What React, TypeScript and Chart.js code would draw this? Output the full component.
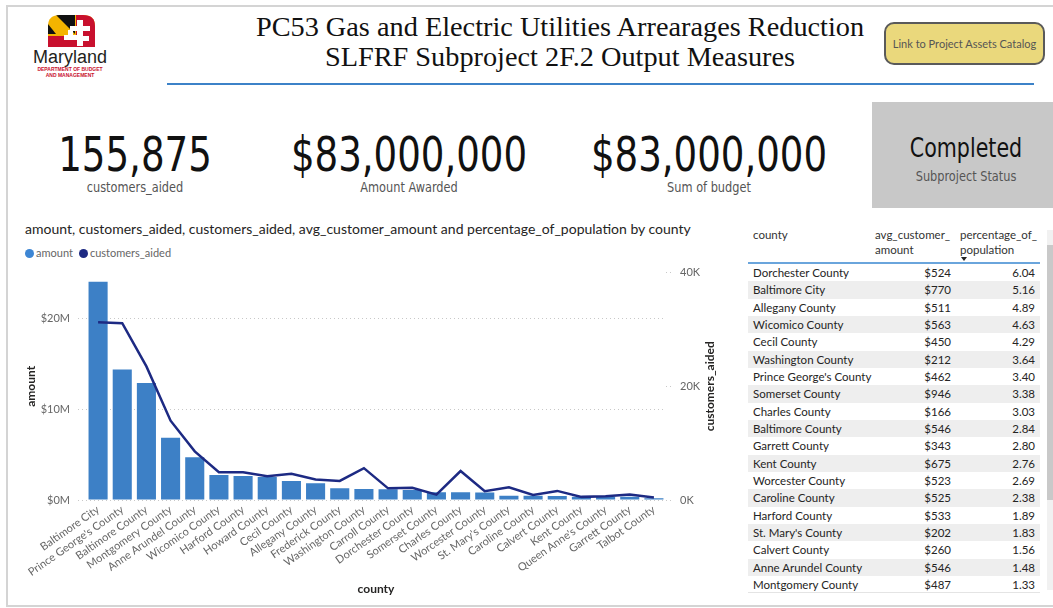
import React, { useEffect, useRef } from 'react';
import { Chart, registerables } from 'chart.js';

Chart.register(...registerables);

// ---------- data ----------
const counties = [
  'Baltimore City', "Prince George's County", 'Baltimore County', 'Montgomery County',
  'Anne Arundel County', 'Wicomico County', 'Harford County', 'Howard County',
  'Cecil County', 'Allegany County', 'Frederick County', 'Washington County',
  'Carroll County', 'Dorchester County', 'Somerset County', 'Charles County',
  'Worcester County', "St. Mary's County", 'Caroline County', 'Calvert County',
  'Kent County', "Queen Anne's County", 'Garrett County', 'Talbot County',
];
const amounts = [
  24000000, 14350000, 12850000, 6830000, 4700000, 2750000, 2640000, 2530000,
  2090000, 1840000, 1290000, 1210000, 1180000, 1100000, 850000, 850000,
  830000, 480000, 480000, 450000, 370000, 360000, 350000, 180000,
];
const customersAided = [
  31250, 31100, 23500, 13950, 8550, 4900, 4900, 4200,
  4600, 3600, 3350, 5600, 2050, 2150, 950, 5100,
  1550, 2250, 880, 1600, 550, 650, 980, 450,
];
const amountAxisMax = 25000000;
const amountTicks = [0, 10000000, 20000000];
const customersAxisMax = 40000;
const customersTicks = [0, 20000, 40000];

const tableCounties = [
  'Dorchester County', 'Baltimore City', 'Allegany County', 'Wicomico County', 'Cecil County',
  'Washington County', "Prince George's County", 'Somerset County', 'Charles County',
  'Baltimore County', 'Garrett County', 'Kent County', 'Worcester County', 'Caroline County',
  'Harford County', "St. Mary's County", 'Calvert County', 'Anne Arundel County', 'Montgomery County',
];
const avgCustomerAmounts = [524, 770, 511, 563, 450, 212, 462, 946, 166, 546, 343, 675, 523, 525, 533, 202, 260, 546, 487];
const percentageOfPopulation = [6.04, 5.16, 4.89, 4.63, 4.29, 3.64, 3.40, 3.38, 3.03, 2.84, 2.80, 2.76, 2.69, 2.38, 1.89, 1.83, 1.56, 1.48, 1.33];

const kpiCustomersAided = 155875;
const kpiAmountAwarded = 83000000;
const kpiSumOfBudget = 83000000;
const subprojectStatus = 'Completed';

// ---------- styles ----------
const SANS = "'Segoe UI', Lato, 'Noto Sans', sans-serif";
const NARROW = "'Liberation Sans Narrow', 'DejaVu Sans Condensed', 'Roboto', sans-serif";
const SERIF = "'Liberation Serif', 'DejaVu Serif', serif";

const fmtInt = (n: number) => n.toLocaleString('en-US');
const fmtMoney = (n: number) => '$' + n.toLocaleString('en-US');

function ComboChart() {
  const ref = useRef<HTMLCanvasElement | null>(null);
  useEffect(() => {
    if (!ref.current) return;
    const rightTitle = {
      id: 'rightTitle',
      afterDraw(chart: any) {
        const { ctx, chartArea } = chart;
        const s = chart.scales.y1;
        ctx.save();
        ctx.translate(s.left + 44, (chartArea.top + chartArea.bottom) / 2);
        ctx.rotate(-Math.PI / 2);
        ctx.font = `bold 12px ${SANS}`;
        ctx.fillStyle = '#252423';
        ctx.textAlign = 'center';
        ctx.textBaseline = 'middle';
        ctx.fillText('customers_aided', 0, 0);
        ctx.restore();
      },
    };
    const chart = new Chart(ref.current, {
      type: 'bar',
      data: {
        labels: counties,
        datasets: [
          {
            type: 'line',
            label: 'customers_aided',
            data: customersAided,
            yAxisID: 'y1',
            borderColor: '#1d2a83',
            borderWidth: 2.5,
            pointRadius: 0,
            tension: 0,
            order: 0,
          } as any,
          {
            type: 'bar',
            label: 'amount',
            data: amounts,
            yAxisID: 'y',
            backgroundColor: '#3d80c6',
            borderWidth: 0,
            categoryPercentage: 1,
            barPercentage: 0.79,
            order: 1,
          } as any,
        ],
      },
      options: {
        responsive: false,
        maintainAspectRatio: false,
        animation: false,
        layout: { padding: { top: 7, left: 0, right: 0, bottom: 0 } },
        plugins: {
          legend: { display: false },
          title: { display: false },
          tooltip: { enabled: false },
        },
        scales: {
          x: {
            grid: { display: false, drawTicks: false },
            border: { display: false },
            ticks: {
              autoSkip: false,
              minRotation: 35,
              maxRotation: 35,
              color: '#666666',
              padding: 3,
              font: { size: 11, family: SANS },
            },
            title: {
              display: true,
              text: 'county',
              color: '#252423',
              font: { size: 12, family: SANS, weight: 'bold' },
              padding: { top: 0, bottom: 9 },
            },
            afterFit: (s: any) => { s.height = 105; },
          },
          y: {
            position: 'left',
            min: 0,
            max: amountAxisMax,
            grid: { color: '#c8c8c8', lineWidth: 1, tickLength: 8, tickColor: '#c8c8c8', tickBorderDash: [1, 3] },
            border: { display: false, dash: [1, 3] },
            ticks: {
              padding: 8,
              color: '#666666',
              font: { size: 11, family: SANS },
              callback: (v: any) => '$' + Number(v) / 1000000 + 'M',
            },
            afterBuildTicks: (s: any) => { s.ticks = amountTicks.map((v) => ({ value: v })); },
            title: {
              display: true,
              text: 'amount',
              color: '#252423',
              font: { size: 12, family: SANS, weight: 'bold' },
              padding: { top: 4, bottom: 4 },
            },
            afterFit: (s: any) => { s.width = 66; },
          },
          y1: {
            position: 'right',
            min: 0,
            max: customersAxisMax,
            grid: { drawOnChartArea: false, tickLength: 8, tickColor: '#c8c8c8', tickBorderDash: [1, 3] },
            border: { display: false },
            ticks: {
              padding: 6,
              color: '#666666',
              font: { size: 11, family: SANS },
              callback: (v: any) => Number(v) / 1000 + 'K',
            },
            afterBuildTicks: (s: any) => { s.ticks = customersTicks.map((v) => ({ value: v })); },
            afterFit: (s: any) => { s.width = 79; },
          },
        },
      } as any,
      plugins: [rightTitle as any],
    });
    return () => chart.destroy();
  }, []);
  return (
    <canvas
      ref={ref}
      width={725}
      height={347}
      style={{ position: 'absolute', left: 20, top: 258, width: 725, height: 347 }}
    />
  );
}

function Logo() {
  return (
    <div style={{ position: 'absolute', left: 20, top: 12, width: 100, height: 70 }}>
      <svg width={100} height={45} style={{ position: 'absolute', left: 0, top: 0 }}>
        <defs>
          <clipPath id="arch">
            <path d="M28,35 L28,14 Q28,3 40,3 L63,3 Q75,3 75,14 L75,35 Z" />
          </clipPath>
        </defs>
        <g clipPath="url(#arch)">
          <rect x={28} y={3} width={47} height={32} fill="#f4b400" />
          <polygon points="36,3 55,3 55,22" fill="#111" />
          <polygon points="28,12 36,22 28,22" fill="#111" />
          <rect x={56} y={3} width={19} height={32} fill="#c8102e" />
          <rect x={28} y={24} width={47} height={11} fill="#c8102e" />
          <rect x={50} y={14} width={20} height={5} fill="#fff" />
          <rect x={57} y={8} width={6} height={26} fill="#fff" />
          <rect x={44} y={23} width={13} height={5} fill="#fff" />
          <rect x={48} y={18} width={5} height={10} fill="#fff" />
          <rect x={63} y={24} width={6} height={5} fill="#fff" />
        </g>
      </svg>
      <div style={{ position: 'absolute', left: 0, top: 35, width: 100, textAlign: 'center', fontFamily: "'Liberation Sans', Arial, sans-serif", fontSize: 18, lineHeight: '20px', color: '#231f20', fontWeight: 500 }}>
        Maryland
      </div>
      <div style={{ position: 'absolute', left: 0, top: 55, width: 100, textAlign: 'center', fontFamily: "'Liberation Sans', Arial, sans-serif", fontSize: 5, lineHeight: '5.5px', color: '#c8102e', fontWeight: 'bold' }}>
        DEPARTMENT OF BUDGET<br />AND MANAGEMENT
      </div>
    </div>
  );
}

function Kpi({ cx, value, label }: { cx: number; value: string; label: string }) {
  return (
    <>
      <div style={{ position: 'absolute', left: cx - 200, width: 400, top: 130, textAlign: 'center', fontFamily: NARROW, fontSize: 48, lineHeight: '48px', color: '#111', transform: 'scaleX(0.86)', transformOrigin: '50% 50%' }}>
        {value}
      </div>
      <div style={{ position: 'absolute', left: cx - 150, width: 300, top: 179, textAlign: 'center', fontFamily: NARROW, fontSize: 14, lineHeight: '16px', color: '#555', transform: 'scaleX(0.9)', transformOrigin: '50% 50%' }}>
        {label}
      </div>
    </>
  );
}

function DataTable() {
  const rowH = 17.33;
  const top0 = 264;
  return (
    <>
      <div style={{ position: 'absolute', left: 753, top: 227, fontFamily: SANS, fontSize: 11.5, lineHeight: '15px', color: '#333' }}>county</div>
      <div style={{ position: 'absolute', left: 875, top: 227, fontFamily: SANS, fontSize: 11.5, lineHeight: '15px', color: '#333' }}>avg_customer_<br />amount</div>
      <div style={{ position: 'absolute', left: 960, top: 227, fontFamily: SANS, fontSize: 11.5, lineHeight: '15px', color: '#333' }}>percentage_of_<br />population</div>
      <div style={{ position: 'absolute', left: 961, top: 257, width: 0, height: 0, borderLeft: '3px solid transparent', borderRight: '3px solid transparent', borderTop: '4px solid #222' }} />
      <div style={{ position: 'absolute', left: 748, top: 262, width: 292, height: 1.5, background: '#6aa5dc' }} />
      {tableCounties.map((c, i) => (
        <div key={c} style={{ position: 'absolute', left: 748, top: top0 + i * rowH, width: 292, height: rowH, background: i % 2 === 1 ? '#eeeeee' : '#ffffff', fontFamily: SANS, fontSize: 11.5, lineHeight: rowH + 'px', color: '#252423' }}>
          <span style={{ position: 'absolute', left: 5 }}>{c}</span>
          <span style={{ position: 'absolute', right: 1040 - 951 }}>{'$' + avgCustomerAmounts[i]}</span>
          <span style={{ position: 'absolute', right: 1040 - 1035 }}>{percentageOfPopulation[i].toFixed(2)}</span>
        </div>
      ))}
      <div style={{ position: 'absolute', left: 748, top: 592, width: 292, height: 1, background: '#e4e4e4' }} />
      <div style={{ position: 'absolute', left: 1047, top: 230, width: 6, height: 360, background: '#f1f1f1' }} />
      <div style={{ position: 'absolute', left: 1047, top: 245, width: 6, height: 255, background: '#c9c9c9' }} />
    </>
  );
}

export default function App() {
  return (
    <div style={{ position: 'absolute', left: 0, top: 0, width: 1053, height: 608, overflow: 'hidden', background: '#fff', fontFamily: SANS }}>
      <div style={{ position: 'absolute', left: 6, top: 5, width: 1060, height: 598, border: '2px solid #d4d4d4' }} />
      <Logo />
      <div style={{ position: 'absolute', left: 160, width: 800, top: 12, textAlign: 'center', fontFamily: SERIF, fontSize: 28.3, lineHeight: '30px', color: '#111' }}>
        PC53 Gas and Electric Utilities Arrearages Reduction<br />SLFRF Subproject 2F.2 Output Measures
      </div>
      <div style={{ position: 'absolute', left: 167, top: 83, width: 867, height: 2, background: '#3c82c8' }} />
      <div style={{ position: 'absolute', left: 884, top: 22, width: 161, height: 43, boxSizing: 'border-box', background: '#ead87c', border: '2px solid #5a5a5a', borderRadius: 10, display: 'flex', alignItems: 'center', justifyContent: 'center', fontFamily: SANS, fontSize: 11, color: '#555', whiteSpace: 'nowrap' }}>
        Link to Project Assets Catalog
      </div>

      <Kpi cx={134.5} value={fmtInt(kpiCustomersAided)} label="customers_aided" />
      <Kpi cx={409} value={fmtMoney(kpiAmountAwarded)} label="Amount Awarded" />
      <Kpi cx={709} value={fmtMoney(kpiSumOfBudget)} label="Sum of budget" />

      <div style={{ position: 'absolute', left: 872, top: 102, width: 190, height: 106, background: '#c8c8c8' }} />
      <div style={{ position: 'absolute', left: 866, width: 200, top: 135, textAlign: 'center', fontFamily: NARROW, fontSize: 26, lineHeight: '27px', color: '#111', transform: 'scaleX(0.88)' }}>
        {subprojectStatus}
      </div>
      <div style={{ position: 'absolute', left: 866, width: 200, top: 168, textAlign: 'center', fontFamily: NARROW, fontSize: 14, lineHeight: '16px', color: '#555', transform: 'scaleX(0.9)' }}>
        Subproject Status
      </div>

      <div style={{ position: 'absolute', left: 25, top: 221, whiteSpace: 'nowrap', fontFamily: SANS, fontSize: 14, lineHeight: '16px', color: '#252423' }}>
        amount, customers_aided, customers_aided, avg_customer_amount and percentage_of_population by county
      </div>
      <div style={{ position: 'absolute', left: 25, top: 246, display: 'flex', alignItems: 'center', fontFamily: SANS, fontSize: 11, lineHeight: '14px', color: '#666' }}>
        <span style={{ display: 'inline-block', width: 9, height: 9, borderRadius: '50%', background: '#3d86d4', marginRight: 2 }} />
        <span style={{ marginRight: 6 }}>amount</span>
        <span style={{ display: 'inline-block', width: 9, height: 9, borderRadius: '50%', background: '#1d2a83', marginRight: 2 }} />
        <span>customers_aided</span>
      </div>

      <ComboChart />
      <DataTable />
    </div>
  );
}
